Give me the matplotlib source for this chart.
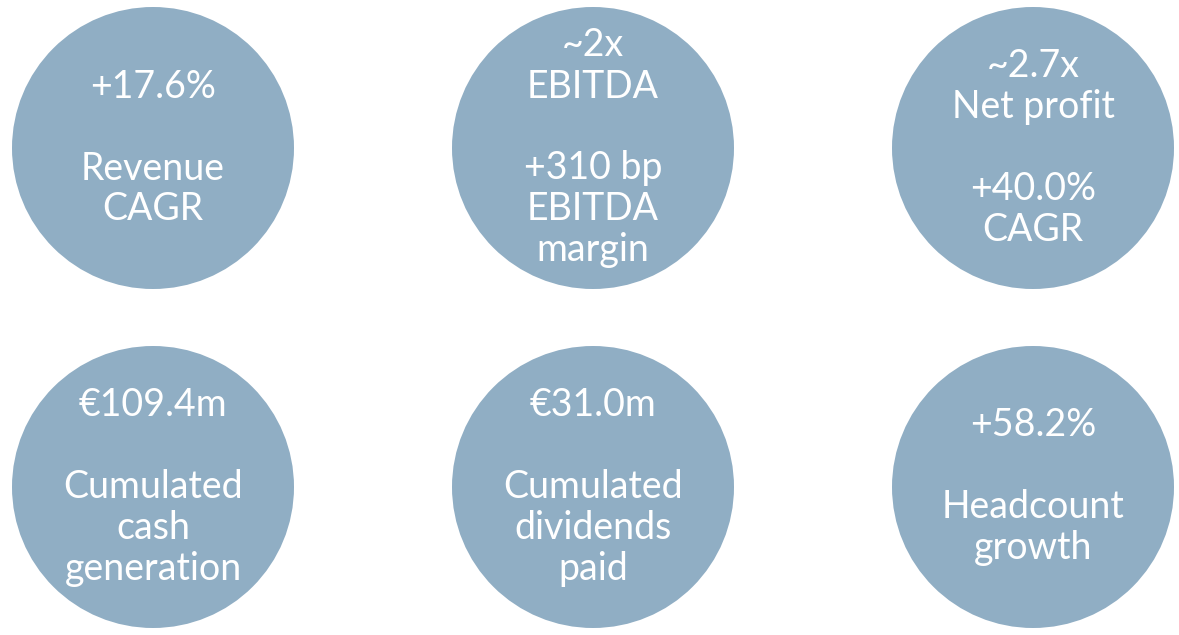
import matplotlib.pyplot as plt
from matplotlib.patches import Circle

# KPI bubbles, row by row (an empty string is a blank line)
kpi_lines = [
    ["+17.6%", "", "Revenue", "CAGR"],
    ["~2x", "EBITDA", "", "+310 bp", "EBITDA", "margin"],
    ["~2.7x", "Net profit", "", "+40.0%", "CAGR"],
    ["€109.4m", "", "Cumulated", "cash", "generation"],
    ["€31.0m", "", "Cumulated", "dividends", "paid"],
    ["+58.2%", "", "Headcount", "growth"],
]

# layout (pixels)
W, H = 1179, 635
col_x = [153, 593, 1033]
row_y = [148, 487]
radius = 141
line_step = 41
baseline_shift = 11

circle_color = "#90AEC4"

plt.rcParams.update({"font.family": ["Lato", "DejaVu Sans"]})

fig = plt.figure(figsize=(W / 100, H / 100), dpi=100)
ax = fig.add_axes([0, 0, 1, 1])
ax.set_xlim(0, W)
ax.set_ylim(H, 0)
ax.set_aspect("equal")
ax.axis("off")

for idx, lines in enumerate(kpi_lines):
    cx = col_x[idx % 3]
    cy = row_y[idx // 3]
    ax.add_patch(Circle((cx, cy), radius, facecolor=circle_color, edgecolor="none"))
    n = len(lines)
    for i, line in enumerate(lines):
        if not line:
            continue
        y = cy + baseline_shift + (i - (n - 1) / 2) * line_step
        ax.text(cx, y, line, ha="center", va="baseline", color="white", fontsize=27)

fig.savefig("out.png", dpi=100, facecolor="white")
plt.close(fig)
